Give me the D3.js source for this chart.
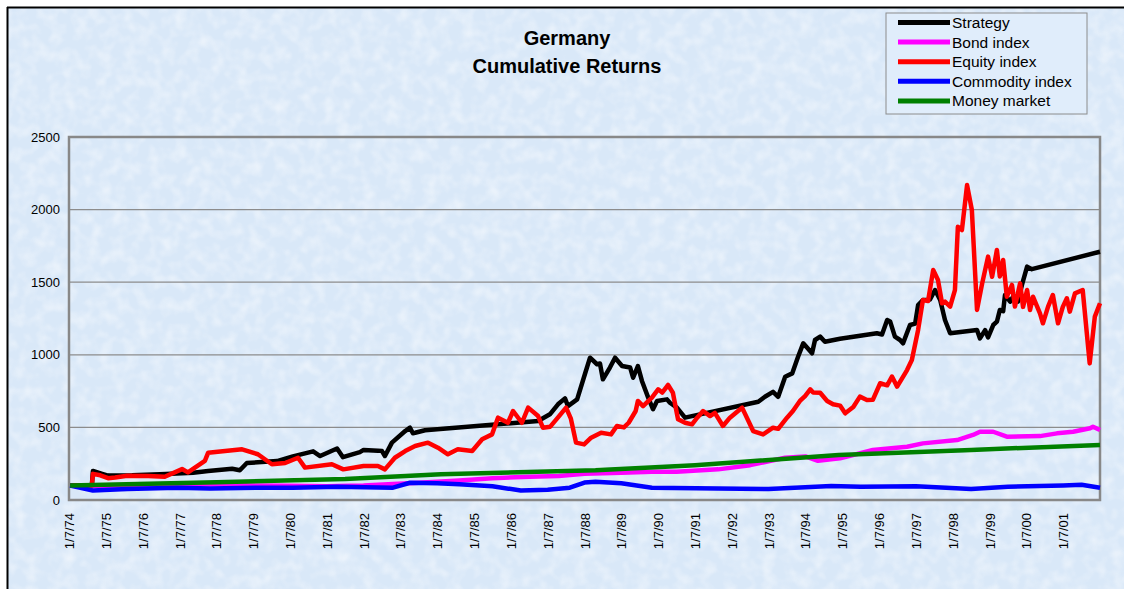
<!DOCTYPE html>
<html lang="en">
<head>
<meta charset="UTF-8">
<title>Germany Cumulative Returns</title>
<script src="https://d3js.org/d3.v7.min.js"></script>
<style>
  body { margin: 0; background: #fff; font-family: Arial, "Liberation Sans", sans-serif; }
  .tick text { font-family: Arial, "Liberation Sans", sans-serif; font-size: 13px; fill: #000; }
  .line { fill: none; stroke-width: 4.5px; stroke-linejoin: round; }
  .legend text { font-size: 15.5px; fill: #000; }
</style>
</head>
<body>
<div id="chart"></div>
<script>
// Series: [decimal year, value], tick at each "1/7/yy" = year start
const strategy = [
  [1974.03, 100], [1974.62, 100], [1974.65, 200], [1974.9, 180], [1975.06, 168], [1975.71, 170],
  [1976.47, 177], [1977.37, 188], [1977.78, 200], [1978.43, 215], [1978.64, 205], [1978.83, 255],
  [1979.65, 268], [1980.08, 300], [1980.63, 335], [1980.82, 303], [1981.28, 355], [1981.44, 295],
  [1981.9, 330], [1982.0, 345], [1982.39, 340], [1982.5, 337], [1982.58, 303], [1982.77, 395],
  [1983.13, 475], [1983.26, 498], [1983.34, 460], [1983.4, 463], [1983.67, 480], [1986.74, 544],
  [1987.06, 590], [1987.28, 659], [1987.47, 700], [1987.55, 647], [1987.8, 693], [1988.01, 866],
  [1988.15, 980], [1988.34, 935], [1988.42, 940], [1988.5, 831], [1988.69, 912], [1988.83, 980],
  [1989.02, 923], [1989.24, 912], [1989.32, 842], [1989.45, 923], [1989.56, 820], [1989.73, 705],
  [1989.86, 625], [1989.97, 682], [1990.24, 693], [1990.32, 670], [1990.51, 636], [1990.73, 567],
  [1992.72, 677], [1992.9, 711], [1993.12, 745], [1993.26, 711], [1993.45, 849], [1993.64, 872],
  [1993.8, 987], [1993.94, 1079], [1994.18, 1010], [1994.26, 1102], [1994.4, 1125], [1994.53, 1090],
  [1994.94, 1110], [1995.94, 1148], [1996.08, 1140], [1996.22, 1240], [1996.3, 1230], [1996.43, 1125],
  [1996.57, 1102], [1996.65, 1079], [1996.84, 1205], [1996.98, 1215], [1997.06, 1343], [1997.19, 1377],
  [1997.38, 1380], [1997.52, 1446], [1997.66, 1377], [1997.79, 1240], [1997.93, 1148], [1998.66, 1171],
  [1998.74, 1113], [1998.88, 1170], [1998.96, 1120], [1999.1, 1205], [1999.2, 1228], [1999.28, 1309],
  [1999.37, 1300], [1999.42, 1412], [1999.56, 1366], [1999.64, 1400], [1999.77, 1366], [1999.88, 1481],
  [2000.02, 1607], [2000.15, 1590], [2002.0, 1710]
];

const bond = [
  [1974.03, 100], [1975.0, 95], [1976.0, 100], [1977.0, 105], [1978.0, 108], [1979.0, 100],
  [1980.0, 98], [1981.0, 95], [1982.0, 100], [1982.8, 110], [1983.5, 118], [1984.6, 135],
  [1985.5, 150], [1986.5, 160], [1987.3, 165], [1988.0, 180], [1989.0, 188], [1989.83, 195],
  [1990.5, 195], [1991.63, 211], [1992.5, 240], [1993.45, 291], [1994.0, 300], [1994.34, 270],
  [1994.94, 287], [1995.83, 344], [1996.76, 367], [1997.19, 390], [1998.12, 413], [1998.55, 448],
  [1998.74, 470], [1999.1, 470], [1999.47, 436], [2000.37, 440], [2000.83, 459], [2001.27, 470],
  [2001.73, 494], [2001.81, 505], [2002.0, 482]
];

const equity = [
  [1974.03, 100], [1974.62, 100], [1974.65, 180], [1974.85, 170], [1975.06, 150], [1975.25, 155],
  [1975.58, 167], [1976.15, 165], [1976.6, 160], [1977.07, 213], [1977.23, 190], [1977.69, 269],
  [1977.78, 326], [1978.24, 337], [1978.7, 349], [1979.13, 315], [1979.51, 246], [1979.87, 255],
  [1980.22, 291], [1980.41, 223], [1981.14, 246], [1981.45, 211], [1982.0, 234], [1982.39, 234],
  [1982.58, 211], [1982.85, 291], [1983.13, 337], [1983.4, 372], [1983.75, 395], [1984.02, 360],
  [1984.29, 315], [1984.56, 349], [1984.95, 337], [1985.22, 418], [1985.49, 452], [1985.65, 567],
  [1985.92, 532], [1986.06, 613], [1986.3, 532], [1986.47, 636], [1986.74, 578], [1986.87, 498],
  [1987.07, 505], [1987.31, 578], [1987.5, 636], [1987.63, 560], [1987.77, 395], [1987.99, 383],
  [1988.18, 429], [1988.45, 463], [1988.72, 452], [1988.88, 510], [1989.07, 500], [1989.2, 532],
  [1989.39, 613], [1989.45, 682], [1989.59, 647], [1989.83, 705], [1990.0, 762], [1990.11, 740],
  [1990.27, 792], [1990.4, 739], [1990.54, 556], [1990.73, 532], [1990.92, 521], [1991.06, 567],
  [1991.22, 613], [1991.41, 578], [1991.54, 600], [1991.76, 510], [1991.95, 567], [1992.17, 613],
  [1992.28, 636], [1992.58, 475], [1992.85, 452], [1993.12, 498], [1993.26, 490], [1993.5, 567],
  [1993.66, 613], [1993.85, 682], [1993.99, 716], [1994.13, 762], [1994.21, 740], [1994.4, 739],
  [1994.59, 682], [1994.75, 659], [1994.94, 650], [1995.08, 597], [1995.3, 640], [1995.48, 712],
  [1995.67, 689], [1995.83, 690], [1996.03, 804], [1996.22, 790], [1996.35, 850], [1996.49, 781],
  [1996.76, 895], [1996.89, 964], [1997.06, 1171], [1997.19, 1377], [1997.33, 1370], [1997.47, 1584],
  [1997.6, 1515], [1997.71, 1355], [1997.79, 1366], [1997.93, 1332], [1998.06, 1446], [1998.14, 1882],
  [1998.25, 1859], [1998.39, 2169], [1998.52, 1997], [1998.66, 1309], [1998.8, 1492], [1998.96, 1676],
  [1999.07, 1538], [1999.2, 1722], [1999.28, 1540], [1999.37, 1653], [1999.47, 1400], [1999.61, 1481],
  [1999.69, 1332], [1999.83, 1492], [1999.91, 1330], [2000.02, 1446], [2000.1, 1309], [2000.18, 1400],
  [2000.37, 1286], [2000.45, 1217], [2000.59, 1332], [2000.72, 1412], [2000.86, 1217], [2000.99, 1330],
  [2001.1, 1389], [2001.18, 1297], [2001.32, 1423], [2001.53, 1446], [2001.72, 941], [2001.86, 1263],
  [2002.0, 1355]
];

const commodity = [
  [1974.03, 100], [1974.65, 65], [1975.58, 75], [1976.94, 85], [1977.84, 80], [1979.2, 85],
  [1980.08, 85], [1981.28, 92], [1982.8, 85], [1983.26, 119], [1984.0, 115], [1984.6, 108],
  [1985.5, 95], [1986.27, 65], [1987.0, 70], [1987.6, 85], [1988.0, 120], [1988.3, 125],
  [1989.0, 115], [1989.83, 85], [1991.63, 80], [1993.0, 75], [1994.7, 96], [1995.5, 92],
  [1997.0, 95], [1998.5, 75], [1999.5, 92], [2001.0, 100], [2001.5, 105], [2002.0, 85]
];

const moneyMarket = [
  [1974.03, 100], [1978.0, 122], [1981.5, 145], [1984.1, 177], [1988.3, 205], [1991.0, 240],
  [1994.9, 310], [1998.5, 345], [2002.0, 379]
];

const seriesNames = ["Strategy", "Bond index", "Equity index", "Commodity index", "Money market"];
const seriesColors = ["#000000", "#ff00ff", "#ff0000", "#0000ff", "#008000"];
const seriesData = [strategy, bond, equity, commodity, moneyMarket];

const xTickYears = d3.range(1974, 2002);
const yTicks = [0, 500, 1000, 1500, 2000, 2500];

const W = 1124, H = 589;
const plot = { left: 69, right: 1100, top: 137, bottom: 500 };

const svg = d3.select("#chart").append("svg")
  .attr("width", W).attr("height", H);

// textured light-blue background
const defs = svg.append("defs");
const filt = defs.append("filter").attr("id", "tex").attr("x", 0).attr("y", 0).attr("width", 1).attr("height", 1);
filt.append("feTurbulence").attr("type", "fractalNoise").attr("baseFrequency", 0.08).attr("numOctaves", 2).attr("seed", 3);
filt.append("feColorMatrix").attr("type", "matrix")
  .attr("values", "0 0 0 0 1  0 0 0 0 1  0 0 0 0 1  0 0 0 1.4 -0.55");

svg.append("rect").attr("x", 8).attr("y", 8).attr("width", W - 8).attr("height", H - 8).attr("fill", "#d9e8f8");
svg.append("rect").attr("x", 8).attr("y", 8).attr("width", W - 8).attr("height", H - 8)
  .attr("filter", "url(#tex)").attr("opacity", 0.65);

// outer frame (top and left)
svg.append("line").attr("x1", 7).attr("x2", W).attr("y1", 7.5).attr("y2", 7.5).attr("stroke", "#000").attr("stroke-width", 2);
svg.append("line").attr("x1", 7.5).attr("x2", 7.5).attr("y1", 7).attr("y2", H).attr("stroke", "#000").attr("stroke-width", 2);

const x = d3.scaleLinear().domain([1974, 2002]).range([plot.left, plot.right]);
const y = d3.scaleLinear().domain([0, 2500]).range([plot.bottom, plot.top]);

// gridlines
svg.append("g").selectAll("line")
  .data(yTicks.slice(1, -1))
  .join("line")
  .attr("x1", plot.left).attr("x2", plot.right)
  .attr("y1", d => y(d)).attr("y2", d => y(d))
  .attr("stroke", "#8c8c8c").attr("stroke-width", 1.2);

// y axis labels
const yAxis = svg.append("g")
  .attr("transform", `translate(${plot.left},0)`)
  .call(d3.axisLeft(y).tickValues(yTicks).tickSize(0).tickPadding(9).tickFormat(d3.format("d")));
yAxis.select(".domain").remove();

// x axis labels (rotated)
const xAxis = svg.append("g")
  .attr("transform", `translate(0,${plot.bottom})`)
  .call(d3.axisBottom(x).tickValues(xTickYears).tickSize(0)
    .tickFormat(d => "1/7/" + String(d % 100).padStart(2, "0")));
xAxis.select(".domain").remove();
xAxis.selectAll("text")
  .attr("transform", "rotate(-90)")
  .attr("text-anchor", "end")
  .attr("x", -13).attr("y", 0).attr("dy", "0.35em");

// plot frame
svg.append("rect")
  .attr("x", plot.left).attr("y", plot.top)
  .attr("width", plot.right - plot.left).attr("height", plot.bottom - plot.top)
  .attr("fill", "none").attr("stroke", "#888").attr("stroke-width", 2.5);

// series
const line = d3.line().x(d => x(d[0])).y(d => y(d[1]));
svg.append("g").selectAll("path")
  .data(seriesData)
  .join("path")
  .attr("class", "line")
  .attr("stroke", (d, i) => seriesColors[i])
  .attr("d", line);

// title
const title = svg.append("text")
  .attr("x", 567).attr("text-anchor", "middle")
  .style("font-weight", "bold").style("font-size", "20px");
title.append("tspan").attr("x", 567).attr("y", 45).text("Germany");
title.append("tspan").attr("x", 567).attr("y", 73).text("Cumulative Returns");

// legend
const legend = svg.append("g").attr("class", "legend").attr("transform", "translate(886,13)");
legend.append("rect").attr("width", 201).attr("height", 101)
  .attr("fill", "#e0edfb").attr("stroke", "#8c8c8c").attr("stroke-width", 1);
const rows = legend.selectAll("g.row").data(seriesNames).join("g")
  .attr("class", "row")
  .attr("transform", (d, i) => `translate(0,${9.5 + i * 19.6})`);
rows.append("line").attr("x1", 12).attr("x2", 64).attr("y1", 0).attr("y2", 0)
  .attr("stroke", (d, i) => seriesColors[i]).attr("stroke-width", 5);
rows.append("text").attr("x", 66).attr("y", 0).attr("dy", "0.35em").text(d => d);
</script>
</body>
</html>
